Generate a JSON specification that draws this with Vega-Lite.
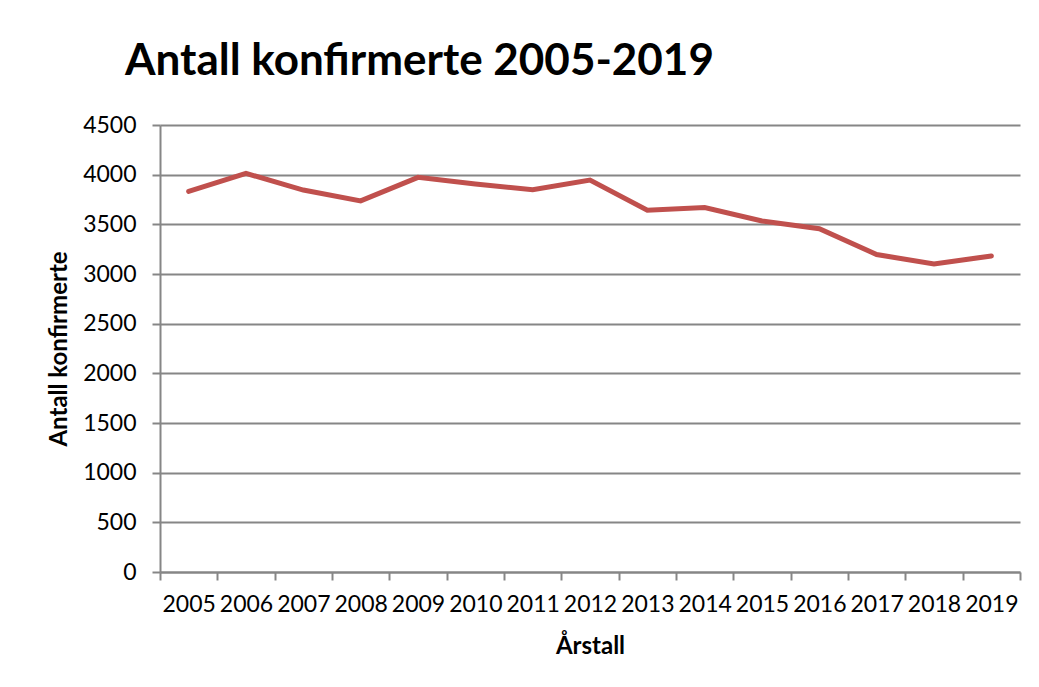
{
  "$schema": "https://vega.github.io/schema/vega-lite/v6.json",
  "autosize": "none",
  "width": 860,
  "height": 447,
  "padding": {"left": 160, "top": 125, "right": 19, "bottom": 115},
  "background": "white",
  "title": {
    "text": "Antall konfirmerte 2005-2019",
    "anchor": "start",
    "frame": "group",
    "font": "Lato",
    "fontSize": 44,
    "fontWeight": "bold",
    "color": "black",
    "baseline": "alphabetic",
    "offset": 50,
    "dx": -35,
    "dy": 55
  },
  "data": {
    "values": [
      {"year": "2005", "antall": 3831},
      {"year": "2006", "antall": 4013},
      {"year": "2007", "antall": 3845},
      {"year": "2008", "antall": 3736},
      {"year": "2009", "antall": 3973},
      {"year": "2010", "antall": 3905},
      {"year": "2011", "antall": 3848},
      {"year": "2012", "antall": 3946},
      {"year": "2013", "antall": 3642},
      {"year": "2014", "antall": 3669},
      {"year": "2015", "antall": 3534},
      {"year": "2016", "antall": 3456},
      {"year": "2017", "antall": 3196},
      {"year": "2018", "antall": 3101},
      {"year": "2019", "antall": 3182}
    ]
  },
  "mark": {"type": "line", "color": "#C0504D", "strokeWidth": 5, "strokeCap": "round", "strokeJoin": "miter"},
  "encoding": {
    "x": {
      "field": "year",
      "type": "ordinal",
      "scale": {"type": "band", "paddingInner": 0, "paddingOuter": 0},
      "axis": {
        "title": "Årstall",
        "labelAngle": 0,
        "tickBand": "extent",
        "labelOverlap": false,
        "labelPadding": 13,
        "titlePadding": 18,
        "grid": false
      }
    },
    "y": {
      "field": "antall",
      "type": "quantitative",
      "scale": {"domain": [0, 4500], "nice": false},
      "axis": {
        "title": "Antall konfirmerte",
        "format": "d",
        "values": [0, 500, 1000, 1500, 2000, 2500, 3000, 3500, 4000, 4500],
        "grid": true,
        "labelPadding": 16,
        "titlePadding": 11
      }
    }
  },
  "config": {
    "view": {"stroke": null},
    "axis": {
      "labelFont": "Lato",
      "labelFontSize": 23,
      "labelColor": "black",
      "titleFont": "Lato",
      "titleFontSize": 24,
      "titleFontWeight": "bold",
      "titleColor": "black",
      "domainColor": "#868686",
      "domainWidth": 2,
      "tickColor": "#868686",
      "tickWidth": 2,
      "tickSize": 8,
      "gridColor": "#868686",
      "gridWidth": 2
    }
  }
}
